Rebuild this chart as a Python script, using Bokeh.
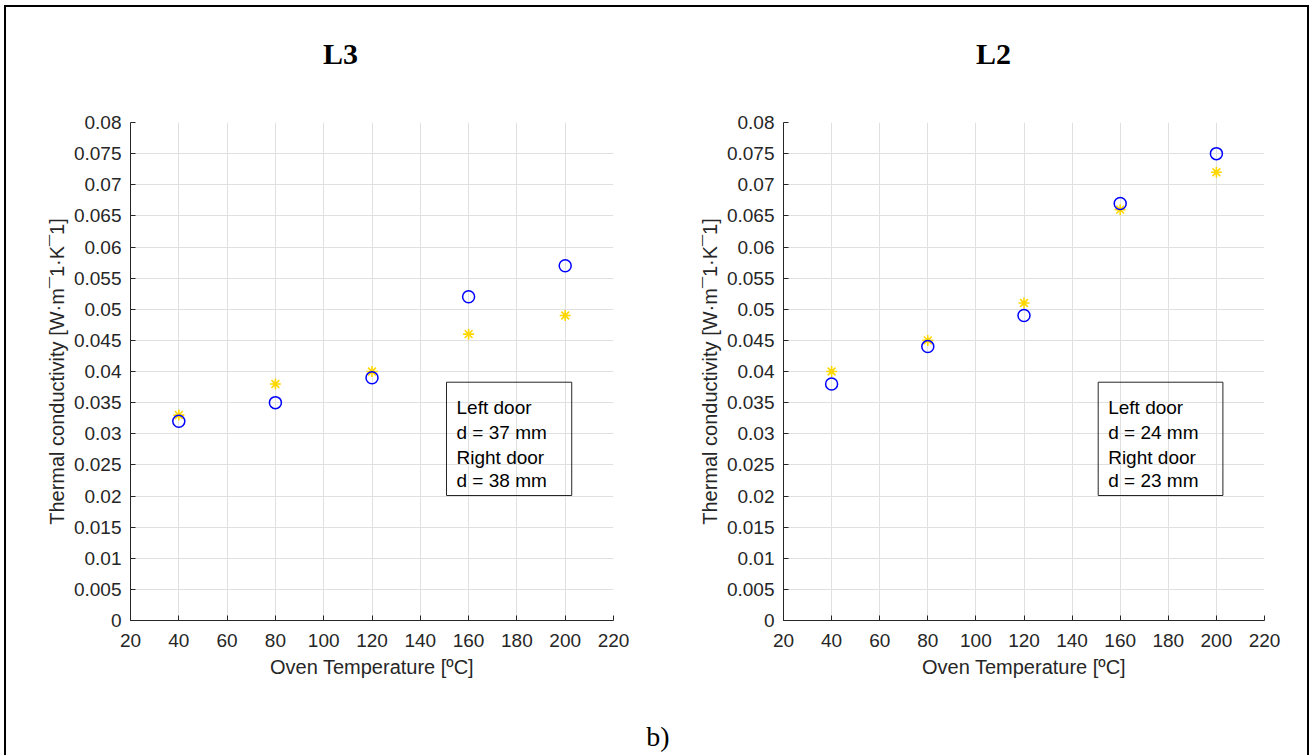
from bokeh.plotting import figure
from bokeh.models import FixedTicker, Label, BoxAnnotation
from bokeh.layouts import row, column
from bokeh.embed import file_html
from bokeh.resources import INLINE

# ---- data ----
temperatures = [40, 80, 120, 160, 200]
l3_circles = [0.032, 0.035, 0.039, 0.052, 0.057]
l3_stars = [0.033, 0.038, 0.040, 0.046, 0.049]
l2_circles = [0.038, 0.044, 0.049, 0.067, 0.075]
l2_stars = [0.040, 0.045, 0.051, 0.066, 0.072]

x_ticks = [20, 40, 60, 80, 100, 120, 140, 160, 180, 200, 220]
y_ticks = [0, 0.005, 0.01, 0.015, 0.02, 0.025, 0.03, 0.035, 0.04,
           0.045, 0.05, 0.055, 0.06, 0.065, 0.07, 0.075, 0.08]
y_tick_labels = ["0", "0.005", "0.01", "0.015", "0.02", "0.025", "0.03", "0.035", "0.04",
                 "0.045", "0.05", "0.055", "0.06", "0.065", "0.07", "0.075", "0.08"]

titles = ["L3", "L2"]
box_lines = [["Left door", "d = 37 mm", "Right door", "d = 38 mm"],
             ["Left door", "d = 24 mm", "Right door", "d = 23 mm"]]
caption = "b)"

x_label = "Oven Temperature [\u00baC]"
y_label = "Thermal conductivity [W\u00b7m\u00af1\u00b7K\u00af1]"

SANS = "Liberation Sans"
SERIF = "Liberation Serif"
DARK = "#262626"
GRID = "#e0e0e0"
BLUE = "#0000ff"
GOLD = "#ffd700"

TOTAL_W = 1301
TOP_H = 100
MID_H = 608
BOT_H = 40


def strip(height):
    s = figure(width=TOTAL_W, height=height, x_range=(0, TOTAL_W), y_range=(0, height),
               x_axis_type=None, y_axis_type=None, min_border=0,
               output_backend="svg", toolbar_location=None, tools="")
    s.grid.visible = False
    s.outline_line_color = None
    s.background_fill_color = "white"
    s.border_fill_color = "white"
    return s


def make_panel(circles, stars, lines, frame_w, left_border, right_border):
    p = figure(frame_width=frame_w, frame_height=498,
               min_border_left=left_border, min_border_right=right_border,
               min_border_top=115 - TOP_H, min_border_bottom=MID_H - (115 - TOP_H) - 498,
               x_range=(20, 220), y_range=(0, 0.08),
               output_backend="svg", toolbar_location=None, tools="")
    p.outline_line_color = None
    p.background_fill_color = "white"
    p.border_fill_color = "white"

    p.xaxis.ticker = FixedTicker(ticks=x_ticks)
    p.yaxis.ticker = FixedTicker(ticks=y_ticks)
    p.yaxis.major_label_overrides = {t: s for t, s in zip(y_ticks, y_tick_labels)}
    for ax in (p.xaxis[0], p.yaxis[0]):
        ax.axis_line_color = DARK
        ax.axis_line_width = 1
        ax.major_tick_line_color = DARK
        ax.major_tick_in = 5
        ax.major_tick_out = 0
        ax.minor_tick_line_color = None
        ax.major_label_text_font = SANS
        ax.major_label_text_font_size = "19px"
        ax.major_label_text_color = DARK
        ax.axis_label_text_font = SANS
        ax.axis_label_text_font_size = "20px"
        ax.axis_label_text_font_style = "normal"
        ax.axis_label_text_color = DARK
    p.xaxis.axis_label = x_label
    p.yaxis.axis_label = y_label
    p.xaxis.major_label_standoff = 13
    p.xaxis.axis_label_standoff = 6
    p.yaxis.major_label_standoff = 9
    p.yaxis.axis_label_standoff = 3

    for g in (p.xgrid[0], p.ygrid[0]):
        g.grid_line_color = GRID
        g.grid_line_width = 1

    p.scatter(temperatures, stars, marker="asterisk", size=11,
              line_color=GOLD, line_width=1.6)
    p.scatter(temperatures, circles, marker="circle", size=12,
              line_color=BLUE, fill_color=None, line_width=1.5)

    # text box
    p.add_layout(BoxAnnotation(left=150.85, right=202.7, top=0.03828, bottom=0.02008,
                               fill_color=None, fill_alpha=0, line_color=DARK,
                               line_width=1, line_alpha=1))
    for txt, yb in zip(lines, [0.03417, 0.03025, 0.02623, 0.02249]):
        p.add_layout(Label(x=155.0, y=yb, text=txt, text_font=SANS,
                           text_font_size="19px", text_color="black",
                           text_align="left", text_baseline="alphabetic"))
    return p


top = strip(TOP_H)
for t, cx in zip(titles, [334, 987]):
    top.add_layout(Label(x=cx, y=TOP_H - 46, text=t, text_font=SERIF,
                         text_font_size="30px", text_font_style="bold",
                         text_color="black", text_align="center",
                         text_baseline="alphabetic"))

p1 = make_panel(l3_circles, l3_stars, box_lines[0], 483, 124, 67)
p2 = make_panel(l2_circles, l2_stars, box_lines[1], 481, 103, 43)

bottom = strip(BOT_H)
bottom.add_layout(Label(x=651.5, y=BOT_H - 21, text=caption, text_font=SERIF,
                        text_font_size="28px", text_color="black",
                        text_align="center", text_baseline="alphabetic"))

layout = column(top, row(p1, p2), bottom, styles={
    "border-left": "2px solid black",
    "border-top": "2px solid black",
    "border-right": "2px solid black",
    "margin-left": "4px",
    "margin-top": "5px",
})

open("out.html", "w").write(file_html(layout, INLINE))
